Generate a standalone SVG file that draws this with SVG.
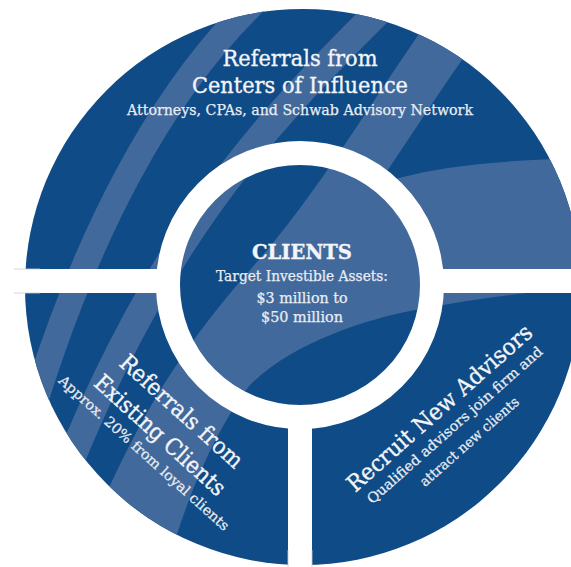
<svg xmlns="http://www.w3.org/2000/svg" width="571" height="567" viewBox="0 0 571 567">
  <defs>
    <clipPath id="outerClip">
      <circle cx="303" cy="287" r="278"/>
    </clipPath>
    <style>
      .disc { fill: #0f4b86; }
      .streak { fill: none; stroke: #42699b; stroke-linecap: butt; }
      .sweep { fill: #42699b; stroke: none; }
      .gap { fill: #ffffff; }
      .gap-edge { fill: none; stroke: #c9ccd2; stroke-width: 0.8; }
      .title { font-family: "DejaVu Serif", "Liberation Serif", serif; fill: #f3f5f8; stroke: #f3f5f8; stroke-width: 0.35; text-anchor: middle; }
      .sub { font-family: "DejaVu Serif", "Liberation Serif", serif; fill: #e9edf3; stroke: #e9edf3; stroke-width: 0.25; text-anchor: middle; }
    </style>
  </defs>

  <rect width="571" height="567" fill="#ffffff"/>

  <!-- background disc with light sweeping streaks -->
  <g id="disc">
    <circle class="disc" cx="303" cy="287" r="278"/>
    <g clip-path="url(#outerClip)">
      <path class="streak" stroke-width="26" d="M 262,-5 C 170,80 80,230 15,470"/>
      <path class="streak" stroke-width="28" d="M 395,-5 C 280,110 150,230 40,540"/>
      <path class="streak" stroke-width="50" d="M 485,-15 C 405,90 350,195 270,285 S 150,450 100,570"/>
      <!-- broad sweep crossing the centre from the right edge to the lower left -->
      <path class="sweep" d="M 590,158 C 500,160 440,166 392,180 C 345,196 275,258 225,330 C 185,380 145,470 115,575 L 165,575 C 185,500 215,430 250,385 C 290,345 360,320 420,309 C 480,298 540,290 590,288 Z"/>
    </g>
  </g>

  <!-- white separators between the three segments and round the centre -->
  <g id="connectors">
    <rect class="gap" x="14" y="269" width="152" height="24"/>
    <rect class="gap" x="434" y="269" width="150" height="24"/>
    <line class="gap-edge" x1="14" y1="269" x2="40" y2="269"/>
    <line class="gap-edge" x1="14" y1="293" x2="40" y2="293"/>
    <rect class="gap" x="288" y="410" width="24" height="170"/>
    <line class="gap-edge" x1="288" y1="550" x2="288" y2="567"/>
    <line class="gap-edge" x1="312" y1="550" x2="312" y2="567"/>
    <circle cx="300" cy="285" r="132" fill="none" stroke="#ffffff" stroke-width="24"/>
  </g>

  <!-- centre node -->
  <g id="clients">
    <text class="title" x="302" y="259" font-size="21" font-weight="bold" textLength="100" lengthAdjust="spacingAndGlyphs">CLIENTS</text>
    <text class="sub" x="302" y="281" font-size="14" textLength="172" lengthAdjust="spacingAndGlyphs">Target Investible Assets:</text>
    <text class="sub" x="302" y="303" font-size="14" textLength="91" lengthAdjust="spacingAndGlyphs">$3 million to</text>
    <text class="sub" x="302" y="322" font-size="14" textLength="82" lengthAdjust="spacingAndGlyphs">$50 million</text>
  </g>

  <!-- top segment -->
  <g id="centers-of-influence">
    <text class="title" x="300" y="66" font-size="23" textLength="155" lengthAdjust="spacingAndGlyphs">Referrals from</text>
    <text class="title" x="300" y="93" font-size="23" textLength="216" lengthAdjust="spacingAndGlyphs">Centers of Influence</text>
    <text class="sub" x="300" y="115" font-size="15" textLength="346" lengthAdjust="spacingAndGlyphs">Attorneys, CPAs, and Schwab Advisory Network</text>
  </g>

  <!-- lower-left segment -->
  <g id="existing-clients" transform="translate(181,412) rotate(42)">
    <text class="title" x="0" y="7" font-size="23" textLength="157" lengthAdjust="spacingAndGlyphs">Referrals from</text>
    <text class="title" x="0" y="39" font-size="23" textLength="168" lengthAdjust="spacingAndGlyphs">Existing Clients</text>
    <text class="sub" x="0" y="60" font-size="14" textLength="224" lengthAdjust="spacingAndGlyphs">Approx. 20% from loyal clients</text>
  </g>

  <!-- lower-right segment -->
  <g id="new-advisors" transform="translate(440,408.5) rotate(-41.5)">
    <text class="title" x="0" y="7" font-size="23" textLength="239" lengthAdjust="spacingAndGlyphs">Recruit New Advisors</text>
    <text class="sub" x="0" y="27" font-size="14" textLength="229" lengthAdjust="spacingAndGlyphs">Qualified advisors join firm and</text>
    <text class="sub" x="0" y="49" font-size="14" textLength="127" lengthAdjust="spacingAndGlyphs">attract new clients</text>
  </g>
</svg>
